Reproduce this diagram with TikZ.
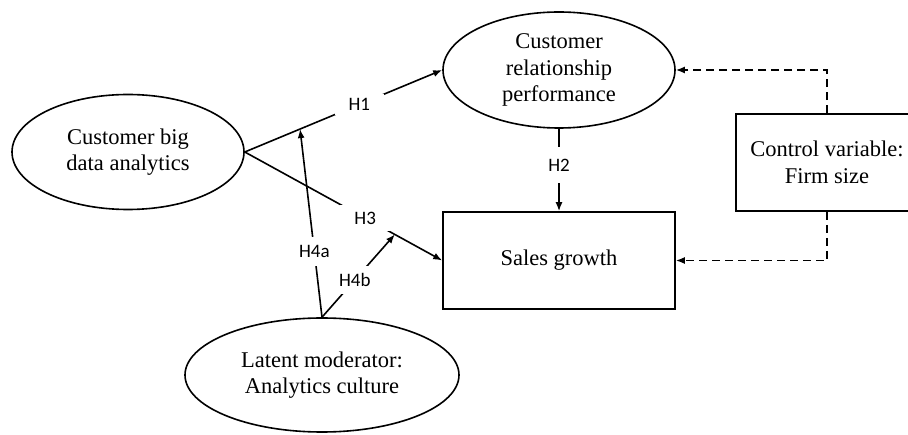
\documentclass[tikz,border=0pt]{standalone}
\usepackage{fontspec}
\setmainfont{Liberation Serif}
\newfontfamily\hfont{Carlito}
\usetikzlibrary{shapes.geometric,arrows.meta,calc}

\begin{document}
\begin{tikzpicture}[
      x=1pt, y=-1pt,
      every node/.style={font=\fontsize{22.5}{26.5}\selectfont},
      latent/.style={ellipse,draw,line width=1.6pt,minimum width=232pt,minimum height=115pt,inner sep=0pt,align=center},
      observed/.style={rectangle,draw,line width=1.6pt,align=center},
      hpath/.style={line width=1.6pt,-{Latex[length=9pt,width=7pt]}},
      control/.style={line width=1.6pt,dash pattern=on 8pt off 5pt,-{Latex[length=9pt,width=7pt]}},
      hyp/.style={fill=white,font=\hfont\fontsize{19}{20}\selectfont,inner xsep=14pt,inner ysep=4pt}
    ]
    \clip (0,0) rectangle (908,435);
    % Draw the constructs.
    \node[latent] (cbda) at (128,152) {Customer big\\data analytics};
    \node[latent,minimum height=116pt] (crp) at (559,70) {Customer\\relationship\\performance};
    \node[observed,minimum width=232pt,minimum height=97pt] (sales) at (559,260.5) {Sales growth};
    \node[observed,minimum width=182pt,minimum height=97pt] (ctrl) at (827,162.5) {Control variable:\\Firm size};
    \node[latent,minimum width=274pt,minimum height=114pt] (culture) at (322,375) {Latent moderator:\\Analytics culture};
    % Draw the hypothesised paths.
    \draw[hpath] (cbda.east) -- node[hyp,pos=0.58] {H1} (crp.west);
    \draw[hpath] (cbda.east) -- node[hyp,pos=0.61,inner ysep=7pt] {H3} (sales.west);
    \draw[hpath] (crp.south) -- node[hyp,pos=0.44,inner xsep=3pt,inner ysep=12pt] {H2} (sales.north);
    % Draw the moderating paths.
    \coordinate (m1) at ($(cbda.east)!0.28!(crp.west)$);
    \coordinate (m3) at ($(cbda.east)!0.76!(sales.west)$);
    \draw[hpath] (culture.north) -- node[hyp,pos=0.35,inner xsep=3pt,inner ysep=8pt] {H4a} (m1);
    \draw[hpath] (culture.north) -- node[hyp,pos=0.45,inner xsep=2pt,inner ysep=7pt] {H4b} (m3);
    % Draw the control paths.
    \draw[control] (ctrl.north) |- (crp.east);
    \draw[control] (ctrl.south) |- (sales.east);
\end{tikzpicture}
\end{document}
